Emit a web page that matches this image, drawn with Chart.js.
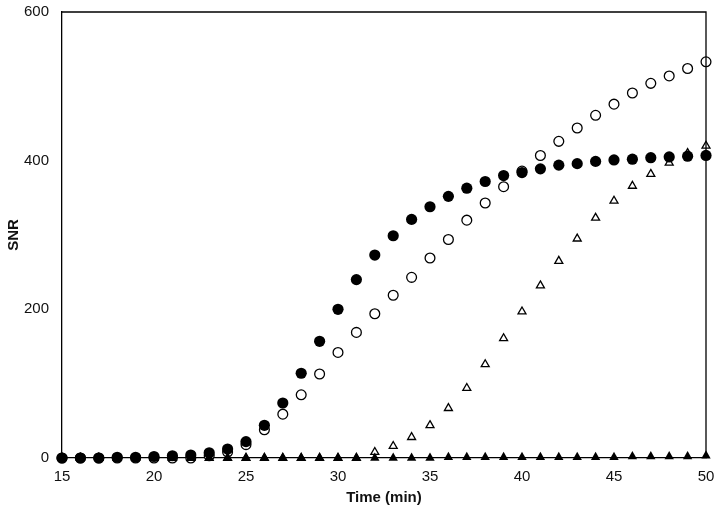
<!DOCTYPE html>
<html>
<head>
<meta charset="utf-8">
<script src="https://cdn.jsdelivr.net/npm/chart.js@4/dist/chart.umd.min.js"></script>
<style>
  html, body { margin: 0; padding: 0; background: #fff; }
  #wrap { width: 719px; height: 516px; position: relative; }
</style>
</head>
<body>
<div id="wrap"><canvas id="c"></canvas></div>
<script>
const timeMin = [15,16,17,18,19,20,21,22,23,24,25,26,27,28,29,30,31,32,33,34,35,36,37,38,39,40,41,42,43,44,45,46,47,48,49,50];
const filledCircle = [0,0,0,1,1,2,3,4,7,12,22,44,74,114,157,200,240,273,299,321,338,352,363,372,380,384,389,394,396,399,401,402,404,405,406,407];
const openCircle = [0,0,0,0,0,0,0,0,3,8,18,38,59,85,113,142,169,194,219,243,269,294,320,343,365,386,407,426,444,461,476,491,504,514,524,533];
const openTriangle = [0,0,0,0,0,0,0,0,0,0,0,0,0,0,0,0,0,8,16,28,44,67,94,126,161,197,232,265,295,323,346,366,382,397,410,420];
const filledTriangle = [0,0,0,0,0,0,0,0,0,0,0,0,0,0,0,0,0,0,0,0,0,1,1,1,1,1,1,1,1,1,1,2,2,2,2,3];
const xTicks = [15,20,25,30,35,40,45,50];
const yTicks = [0,200,400,600];

const pts = arr => arr.map((v, i) => ({x: timeMin[i], y: v}));

const boxPlugin = {
  id: 'box',
  afterDraw(chart) {
    const {ctx, chartArea: a} = chart;
    ctx.save();
    ctx.strokeStyle = '#000';
    ctx.lineWidth = 1.3;
    ctx.beginPath();
    ctx.moveTo(a.left, a.top);
    ctx.lineTo(a.right, a.top);
    ctx.lineTo(a.right, a.bottom);
    ctx.stroke();
    ctx.restore();
  }
};

const font = { family: '"Liberation Sans", Arial, sans-serif', size: 15 };
const boldFont = { family: '"Liberation Sans", Arial, sans-serif', size: 15, weight: 'bold' };

new Chart(document.getElementById('c'), {
  type: 'scatter',
  data: {
    datasets: [
      { label: 'open circle', data: pts(openCircle), pointStyle: 'circle', pointRadius: 4.9,
        backgroundColor: '#fff', borderColor: '#000', pointBorderWidth: 1.3, order: 4, clip: false },
      { label: 'open triangle', data: pts(openTriangle), pointStyle: 'triangle', pointRadius: 4.6,
        backgroundColor: '#fff', borderColor: '#000', pointBorderWidth: 1.3, order: 3, clip: false },
      { label: 'filled circle', data: pts(filledCircle), pointStyle: 'circle', pointRadius: 5.6,
        backgroundColor: '#000', borderColor: '#000', pointBorderWidth: 0, order: 2, clip: false },
      { label: 'filled triangle', data: pts(filledTriangle), pointStyle: 'triangle', pointRadius: 5.4,
        backgroundColor: '#000', borderColor: '#000', pointBorderWidth: 0, order: 1, clip: false }
    ]
  },
  options: {
    responsive: true,
    maintainAspectRatio: false,
    animation: false,
    layout: { padding: { left: 0, right: 13, top: 12, bottom: 0 } },
    plugins: { legend: { display: false }, tooltip: { enabled: false } },
    scales: {
      x: {
        type: 'linear', min: 15, max: 50,
        afterBuildTicks: s => { s.ticks = xTicks.map(v => ({value: v})); },
        afterFit: s => { s.height = 58; s.paddingLeft = 0; s.paddingRight = 0; },
        grid: { display: false, drawTicks: false },
        border: { display: true, color: '#000', width: 1.3 },
        ticks: { color: '#111', font: font, padding: 10, maxRotation: 0 },
        title: { display: true, text: 'Time (min)', color: '#111', font: boldFont, padding: { top: 0, bottom: 9 } }
      },
      y: {
        type: 'linear', min: 0, max: 600,
        afterBuildTicks: s => { s.ticks = yTicks.map(v => ({value: v})); },
        afterFit: s => { s.width = 62; s.paddingTop = 0; s.paddingBottom = 0; },
        grid: { display: false, drawTicks: false },
        border: { display: true, color: '#000', width: 1.3 },
        ticks: { color: '#111', font: font, padding: 13 },
        title: { display: true, text: 'SNR', color: '#111', font: boldFont, padding: { top: 5, bottom: 0 } }
      }
    }
  },
  plugins: [boxPlugin]
});
</script>
</body>
</html>
